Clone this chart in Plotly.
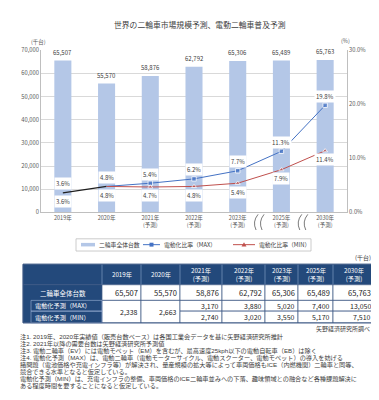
import plotly.graph_objects as go

W, H = 379, 400
FONT = "Noto Sans CJK JP"
FONT_NOTE = "Liberation Sans, Noto Sans CJK JP"

# ---------------- data ----------------
categories = ["2019年", "2020年", "2021年<br>(予測)", "2022年<br>(予測)",
              "2023年<br>(予測)", "2025年<br>(予測)", "2030年<br>(予測)"]
total_units = [65507, 55570, 58876, 62792, 65306, 65489, 65763]
ev_max_units = [2338, 2663, 3170, 3880, 5020, 7400, 13050]
ev_min_units = [2338, 2663, 2740, 3020, 3550, 5170, 7510]
ratio_max = [3.6, 4.8, 5.4, 6.2, 7.7, 11.3, 19.8]
ratio_min = [3.6, 4.8, 4.7, 4.8, 5.4, 7.9, 11.4]
y_ticks = [0, 10000, 20000, 30000, 40000, 50000, 60000, 70000]
y2_ticks = [0, 10, 20, 30]
series_names = ["二輪車全体台数", "電動化比率（MAX）", "電動化比率（MIN）"]
table_row_labels = ["二輪車全体台数", "電動化予測（MAX）", "電動化予測（MIN）"]
title_text = "世界の二輪車市場規模予測、電動二輪車普及予測"
notes = [
    "注1. 2019年、2020年実績値（販売台数ベース）は各国工業会データを基に矢野経済研究所推計",
    "注2. 2021年以降の需要台数は矢野経済研究所予測値",
    "注3. 電動二輪車（EV）には電動モペット（EM）を含むが、最高速度25kph以下の電動自転車（EB）は除く",
    "注4. 電動化予測（MAX）は、電動二輪車（電動モーターサイクル、電動スクーター、電動モペット）の導入を妨げる",
    "諸問題（電池価格や充電インフラ等）が解決され、量産規模の拡大等によって車両価格もICE（内燃機関）二輪車と同等、",
    "競合できる水準となると仮定している。",
    "電動化予測（MIN）は、充電インフラの整備、車両価格のICE二輪車並みへの下落、趣味領域との融合など各種課題解決に",
    "ある程度時間を要することになると仮定している。",
]
source_text = "矢野経済研究所調べ"

# ---------------- colours ----------------
BAR = "#B4C7E7"
BLUE = "#4472C4"
RED = "#C0504D"
DARK = "#23497B"
GRID = "#D9D9D9"
AX = "#BFBFBF"
TXT = "#404040"
TICK = "#595959"


def X(p):
    return p / W


def Y(p):
    return 1 - p / H


def pann(x, y, text, size, color=TXT, xa="center", ya="middle", family=FONT, **kw):
    d = dict(x=X(x), y=Y(y), xref="paper", yref="paper", text=text, showarrow=False,
             xanchor=xa, yanchor=ya, font=dict(size=size, color=color, family=family))
    d.update(kw)
    return d


# plot area in pixels
PL, PR, PT, PB = 33, 339, 38, 204

fig = go.Figure()
fig.add_trace(go.Bar(x=categories, y=total_units, name=series_names[0],
                     marker=dict(color=BAR, line=dict(width=0))))
# actual (2019-2020) segment
fig.add_trace(go.Scatter(x=categories[:2], y=ratio_max[:2], yaxis="y2", mode="lines",
                         line=dict(color="#1F1F1F", width=1.2), showlegend=False,
                         hoverinfo="skip"))
msize = [0, 0] + [4.5] * 5
fig.add_trace(go.Scatter(x=categories[1:], y=ratio_max[1:], yaxis="y2", name=series_names[1],
                         mode="lines+markers", line=dict(color=BLUE, width=1),
                         marker=dict(symbol="square", size=msize[1:], color=BLUE)))
fig.add_trace(go.Scatter(x=categories[1:], y=ratio_min[1:], yaxis="y2", name=series_names[2],
                         mode="lines+markers", line=dict(color=RED, width=1),
                         marker=dict(symbol="triangle-up", size=msize[1:], color=RED)))

ann = []
# bar value labels
for c, v in zip(categories, total_units):
    ann.append(dict(x=c, y=v, xref="x", yref="y", text=f"{v:,}", showarrow=False,
                    xanchor="center", yanchor="bottom", yshift=2,
                    font=dict(size=6, color=TXT, family=FONT)))
# ratio labels
for c, a, b in zip(categories, ratio_max, ratio_min):
    ann.append(dict(x=c, y=a, xref="x", yref="y2", text=f"{a:.1f}%", showarrow=False,
                    xanchor="center", yanchor="middle", yshift=9, bgcolor="white", borderpad=1,
                    font=dict(size=6, color=TXT, family=FONT)))
    ann.append(dict(x=c, y=b, xref="x", yref="y2", text=f"{b:.1f}%", showarrow=False,
                    xanchor="center", yanchor="middle", yshift=-9, bgcolor="white", borderpad=1,
                    font=dict(size=6, color=TXT, family=FONT)))

# title and unit labels
ann.append(pann(192, 12, title_text, 7.8))
ann.append(pann(30, 30, "(千台)", 5.5, color=TICK))
ann.append(pann(337, 29, "(%)", 5.5, color=TICK))

shapes = []
# axis break marks between 2023/2025 and 2025/2030
step = (PR - PL) / len(categories)
for k in (5, 6):
    cx = PL + k * step
    for off in (-4, 2):
        x0 = cx + off
        path = (f"M {X(x0 + 2.5):.5f},{Y(206):.5f} Q {X(x0 - 3.5):.5f},{Y(213.5):.5f} "
                f"{X(x0 + 0.5):.5f},{Y(222):.5f}")
        shapes.append(dict(type="path", xref="paper", yref="paper", path=path,
                           line=dict(color="#595959", width=0.8)))

# ---------------- legend (drawn below chart) ----------------
LY = 237
shapes.append(dict(type="rect", xref="paper", yref="paper", x0=X(68), x1=X(303), y0=Y(231), y1=Y(243.5),
                   line=dict(color=AX, width=0.8)))
shapes.append(dict(type="rect", xref="paper", yref="paper", x0=X(73), x1=X(87), y0=Y(LY - 1.8),
                   y1=Y(LY + 1.8), fillcolor=BAR, line=dict(width=0)))
ann.append(pann(88.5, LY, series_names[0], 5.8, xa="left"))
shapes.append(dict(type="line", xref="paper", yref="paper", x0=X(135), x1=X(152), y0=Y(LY), y1=Y(LY),
                   line=dict(color=BLUE, width=1)))
shapes.append(dict(type="rect", xref="paper", yref="paper", x0=X(141.5), x1=X(145.5), y0=Y(LY - 2),
                   y1=Y(LY + 2), fillcolor=BLUE, line=dict(width=0)))
ann.append(pann(154, LY, series_names[1], 5.8, xa="left"))
shapes.append(dict(type="line", xref="paper", yref="paper", x0=X(225), x1=X(247), y0=Y(LY), y1=Y(LY),
                   line=dict(color=RED, width=1)))
shapes.append(dict(type="path", xref="paper", yref="paper",
                   path=f"M {X(233.5):.5f},{Y(LY + 2):.5f} L {X(238.5):.5f},{Y(LY + 2):.5f} "
                        f"L {X(236):.5f},{Y(LY - 2.5):.5f} Z",
                   fillcolor=RED, line=dict(width=0)))
ann.append(pann(249, LY, series_names[2], 5.8, xa="left"))

# ---------------- table ----------------
col_edges = [15, 94, 133, 172, 214, 257, 290, 325, 366]
row_edges = [257, 278, 294, 305, 317]
T_LINE = "#3A5683"


def rect(x0, x1, y0, y1, fill=None, lc=T_LINE, lw=0.7):
    d = dict(type="rect", xref="paper", yref="paper", x0=X(x0), x1=X(x1), y0=Y(y0), y1=Y(y1),
             line=dict(color=lc, width=lw), layer="above")
    if fill:
        d["fillcolor"] = fill
    return d


shapes.append(rect(col_edges[0], col_edges[-1], row_edges[0], row_edges[1], fill=DARK))
shapes.append(rect(col_edges[0], col_edges[1], row_edges[1], row_edges[-1], fill=DARK))
for i in range(1, len(col_edges) - 1):
    shapes.append(dict(type="line", xref="paper", yref="paper", x0=X(col_edges[i]), x1=X(col_edges[i]),
                       y0=Y(row_edges[0]), y1=Y(row_edges[1]), line=dict(color="#8FA8CC", width=0.6),
                       layer="above"))
# value cells
for j in range(len(categories)):
    a, b = col_edges[j + 1], col_edges[j + 2]
    shapes.append(rect(a, b, row_edges[1], row_edges[2], fill="white"))
    if ev_max_units[j] == ev_min_units[j]:
        shapes.append(rect(a, b, row_edges[2], row_edges[4], fill="white"))
    else:
        shapes.append(rect(a, b, row_edges[2], row_edges[3], fill="white"))
        shapes.append(rect(a, b, row_edges[3], row_edges[4], fill="white"))
# inner label sub-cells
shapes.append(rect(23, col_edges[1], row_edges[2], row_edges[3], lc="#9DB3D6", lw=0.6))
shapes.append(rect(23, col_edges[1], row_edges[3], row_edges[4], lc="#9DB3D6", lw=0.6))
shapes.append(rect(col_edges[0], col_edges[-1], row_edges[0], row_edges[-1], lc=T_LINE, lw=0.8))

# header texts
for j, c in enumerate(categories):
    cx = (col_edges[j + 1] + col_edges[j + 2]) / 2
    ann.append(pann(cx, (row_edges[0] + row_edges[1]) / 2, c, 6.2, color="white"))
# row labels
ann.append(pann((col_edges[0] + col_edges[1]) / 2, (row_edges[1] + row_edges[2]) / 2,
                table_row_labels[0], 6.5, color="white"))
for r in (1, 2):
    ann.append(pann(25, (row_edges[r + 1] + row_edges[r + 2]) / 2, table_row_labels[r], 6.2,
                    color="white", xa="left"))
# values
VAL = "#262626"
for j in range(len(categories)):
    rx = col_edges[j + 2] - 1.5
    ann.append(pann(rx, (row_edges[1] + row_edges[2]) / 2, f"{total_units[j]:,}", 7.5, color=VAL, xa="right"))
    if ev_max_units[j] == ev_min_units[j]:
        ann.append(pann(rx, (row_edges[2] + row_edges[4]) / 2, f"{ev_max_units[j]:,}", 7, color=VAL, xa="right"))
    else:
        for r, vals in ((2, ev_max_units), (3, ev_min_units)):
            ann.append(pann(rx, (row_edges[r] + row_edges[r + 1]) / 2, f"{vals[j]:,}", 7, color=VAL,
                            xa="right"))
ann.append(pann(365, 250, "(千台)", 6, xa="right"))
ann.append(pann(364, 322.5, source_text, 6, xa="right"))

# notes
for i, line in enumerate(notes):
    ann.append(pann(11, 331 + i * 7.2, line, 6.2, xa="left", family=FONT_NOTE, borderpad=0))

fig.update_layout(
    width=W, height=H,
    margin=dict(l=0, r=0, t=0, b=0, pad=0),
    paper_bgcolor="white", plot_bgcolor="white",
    font=dict(family=FONT, size=6, color=TXT),
    bargap=0.61,
    showlegend=False,
    xaxis=dict(domain=[X(PL), X(PR)], type="category", showline=True, linecolor=AX, linewidth=0.8,
               tickfont=dict(size=5.5, color=TICK), ticks="", showgrid=False),
    yaxis=dict(domain=[Y(PB), Y(PT)], range=[0, 70000], tickvals=y_ticks, tickformat=",",
               showline=True, linecolor=AX, linewidth=0.8, gridcolor=GRID, gridwidth=0.8,
               tickfont=dict(size=5.8, color=TICK), ticks="", zeroline=False),
    yaxis2=dict(overlaying="y", side="right", range=[0, 30], tickvals=y2_ticks,
                ticktext=[f"{t:.1f}%" for t in y2_ticks], showline=True, linecolor=AX,
                linewidth=0.8, showgrid=False, zeroline=False,
                tickfont=dict(size=5.8, color=TICK), ticks=""),
    annotations=ann,
    shapes=shapes,
)

fig.write_html("out.html", config={"displayModeBar": False})
